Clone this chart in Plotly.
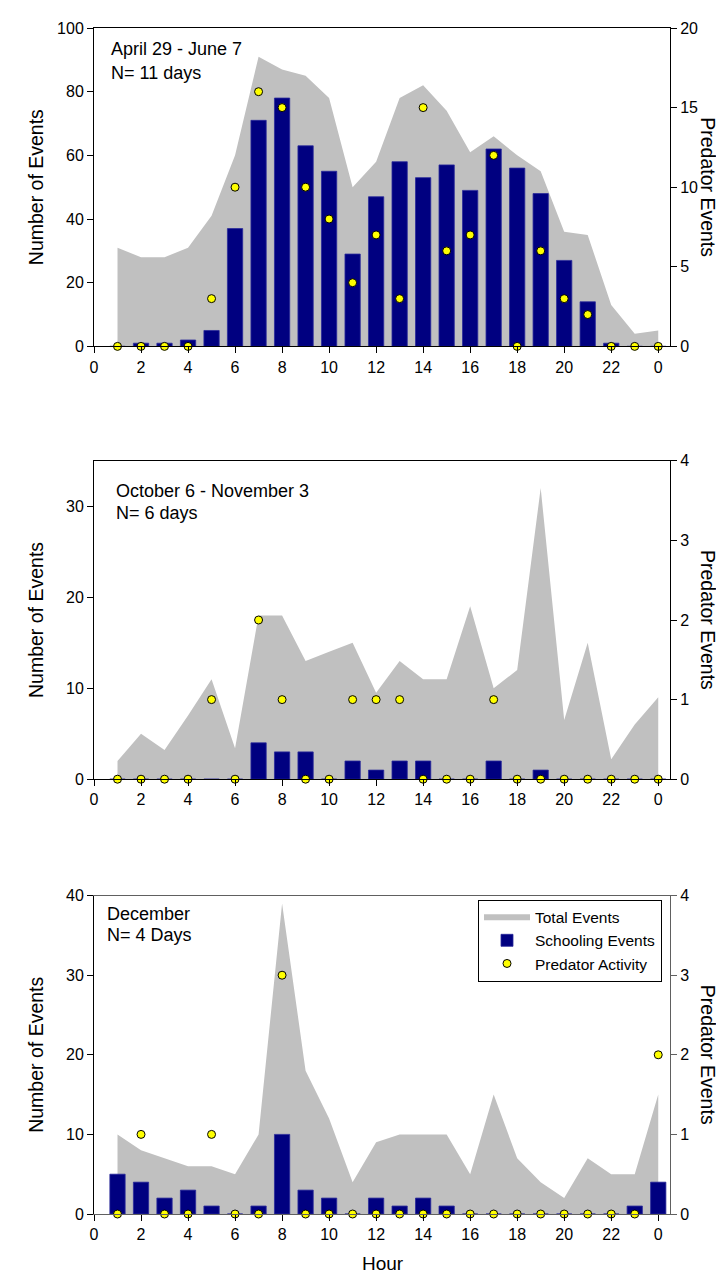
import plotly.graph_objects as go

hours = list(range(1, 25))
tick_vals = list(range(0, 25, 2))
tick_text = ["0", "2", "4", "6", "8", "10", "12", "14", "16", "18", "20", "22", "0"]

# Panel 1: April 29 - June 7
p1_total = [31, 28, 28, 31, 41, 60, 91, 87, 85, 78, 50, 58, 78, 82, 74, 61, 66, 60, 55, 36, 35, 13, 4, 5]
p1_school = [0, 1, 1, 2, 5, 37, 71, 78, 63, 55, 29, 47, 58, 53, 57, 49, 62, 56, 48, 27, 14, 1, 0, 0]
p1_pred = [0, 0, 0, 0, 3, 10, 16, 15, 10, 8, 4, 7, 3, 15, 6, 7, 12, 0, 6, 3, 2, 0, 0, 0]

# Panel 2: October 6 - November 3
p2_total = [2, 5, 3.2, 7, 11, 3.4, 18, 18, 13, 14, 15, 9.5, 13, 11, 11, 19, 10, 12, 32, 6.5, 15, 2.2, 6, 9]
p2_school = [0, 0, 0, 0, 0, 0, 4, 3, 3, 0, 2, 1, 2, 2, 0, 0, 2, 0, 1, 0, 0, 0, 0, 0]
p2_pred = [0, 0, 0, 0, 1, 0, 2, 1, 0, 0, 1, 1, 1, 0, 0, 0, 1, 0, 0, 0, 0, 0, 0, 0]

# Panel 3: December
p3_total = [10, 8, 7, 6, 6, 5, 10, 39, 18, 12, 4, 9, 10, 10, 10, 5, 15, 7, 4, 2, 7, 5, 5, 15]
p3_school = [5, 4, 2, 3, 1, 0, 1, 10, 3, 2, 0, 2, 1, 2, 1, 0, 0, 0, 0, 0, 0, 0, 1, 4]
p3_pred = [0, 1, 0, 0, 1, 0, 0, 3, 0, 0, 0, 0, 0, 0, 0, 0, 0, 0, 0, 0, 0, 0, 0, 2]

panel_labels = [("April 29 - June 7", "N= 11 days"),
                ("October 6 - November 3", "N= 6 days"),
                ("December", "N= 4 Days")]
left_ranges = [[0, 100], [0, 35], [0, 40]]
left_dticks = [20, 10, 10]
right_ranges = [[0, 20], [0, 4], [0, 4]]
right_dticks = [5, 1, 1]

FONT = "Arial, 'Liberation Sans', sans-serif"
GRAY = "#C0C0C0"
NAVY = "#000080"

W, H = 724, 1279
ML, MR, MT, MB = 86, 62, 14, 73
PH = H - MT - MB
PW = W - ML - MR

def py(y):
    return (H - MB - y) / PH

def px(x):
    return (x - ML) / PW

panel_px = [(14, 334), (449, 769), (886, 1206)]
text_pos = [(101, 35.5, 59.5), (106, 479, 501), (97, 904, 926)]

data = [(p1_total, p1_school, p1_pred), (p2_total, p2_school, p2_pred), (p3_total, p3_school, p3_pred)]

fig = go.Figure()
layout = dict(
    width=W, height=H,
    margin=dict(l=ML, r=MR, t=MT, b=MB),
    plot_bgcolor="white", paper_bgcolor="white",
    font=dict(family=FONT, color="black", size=16),
    barmode="overlay",
    showlegend=True,
    legend=dict(x=px(470), y=py(890), xanchor="left", yanchor="top",
                bordercolor="black", borderwidth=1, bgcolor="white",
                font=dict(size=15.5, family=FONT), traceorder="normal",
                tracegroupgap=0, itemwidth=46),
)
annotations = []

for i in range(3):
    total, school, pred = data[i]
    xname = "x" if i == 0 else f"x{i+1}"
    yl = 3 * i + 1
    yb = 3 * i + 2
    yr = 3 * i + 3
    ylname = "y" if yl == 1 else f"y{yl}"
    ybname = f"y{yb}"
    yrname = f"y{yr}"
    top, bot = panel_px[i]
    dom = [py(bot), py(top)]
    spine = "black" if i < 2 else "#606060"
    show = (i == 2)

    fig.add_trace(go.Scatter(x=hours, y=total, mode="none", fill="tozeroy",
                             fillcolor=GRAY, name="Total Events", showlegend=show,
                             xaxis=xname, yaxis=ylname, hoverinfo="skip"))
    fig.add_trace(go.Bar(x=hours, y=school, width=0.65, name="Schooling Events",
                         marker=dict(color=NAVY, line=dict(color="#2a2a9a", width=0.8)),
                         showlegend=show, xaxis=xname, yaxis=ybname))
    fig.add_trace(go.Scatter(x=hours, y=pred, mode="markers", name="Predator Activity",
                             marker=dict(color="#FFFF00", size=8, line=dict(color="black", width=1)),
                             cliponaxis=False, showlegend=show, xaxis=xname, yaxis=yrname))

    xkey = "xaxis" if i == 0 else f"xaxis{i+1}"
    layout[xkey] = dict(domain=[0, 1], range=[0, 24.5], anchor=ylname,
                        tickmode="array", tickvals=tick_vals, ticktext=tick_text,
                        ticks="outside", ticklen=6, tickcolor="black",
                        showline=True, linecolor=spine, linewidth=1, mirror=True,
                        showgrid=False, zeroline=False,
                        tickfont=dict(size=16), fixedrange=True)
    ylkey = "yaxis" if yl == 1 else f"yaxis{yl}"
    layout[ylkey] = dict(domain=dom, range=left_ranges[i], anchor=xname,
                         dtick=left_dticks[i], ticks="outside", ticklen=6, tickcolor="black",
                         showline=True, linecolor="black", linewidth=1,
                         showgrid=False, zeroline=False, tickfont=dict(size=16))
    layout[f"yaxis{yb}"] = dict(domain=dom, range=left_ranges[i], anchor=xname,
                                overlaying=ylname, visible=False, showgrid=False, zeroline=False)
    layout[f"yaxis{yr}"] = dict(domain=dom, range=right_ranges[i], anchor=xname,
                                overlaying=ylname, side="right", dtick=right_dticks[i],
                                ticks="outside", ticklen=6, tickcolor=spine,
                                showline=True, linecolor=spine, linewidth=1,
                                showgrid=False, zeroline=False, tickfont=dict(size=16))

    tx, ty1, ty2 = text_pos[i]
    l1, l2 = panel_labels[i]
    annotations.append(dict(text=l1, x=px(tx), y=py(ty1), xref="paper", yref="paper",
                            xanchor="left", yanchor="middle", showarrow=False,
                            font=dict(size=18)))
    annotations.append(dict(text=l2, x=px(tx), y=py(ty2), xref="paper", yref="paper",
                            xanchor="left", yanchor="middle", showarrow=False,
                            font=dict(size=18)))
    cy = (top + bot) / 2
    annotations.append(dict(text="Number of Events", x=px(28), y=py(cy), xref="paper", yref="paper",
                            xanchor="center", yanchor="middle", textangle=-90, showarrow=False,
                            font=dict(size=19.5)))
    annotations.append(dict(text="Predator Events", x=px(700), y=py(cy), xref="paper", yref="paper",
                            xanchor="center", yanchor="middle", textangle=90, showarrow=False,
                            font=dict(size=19.5)))

annotations.append(dict(text="Hour", x=px(375), y=py(1256), xref="paper", yref="paper",
                        xanchor="center", yanchor="middle", showarrow=False, font=dict(size=19)))
layout["annotations"] = annotations
fig.update_layout(**layout)
fig.write_html("out.html")
